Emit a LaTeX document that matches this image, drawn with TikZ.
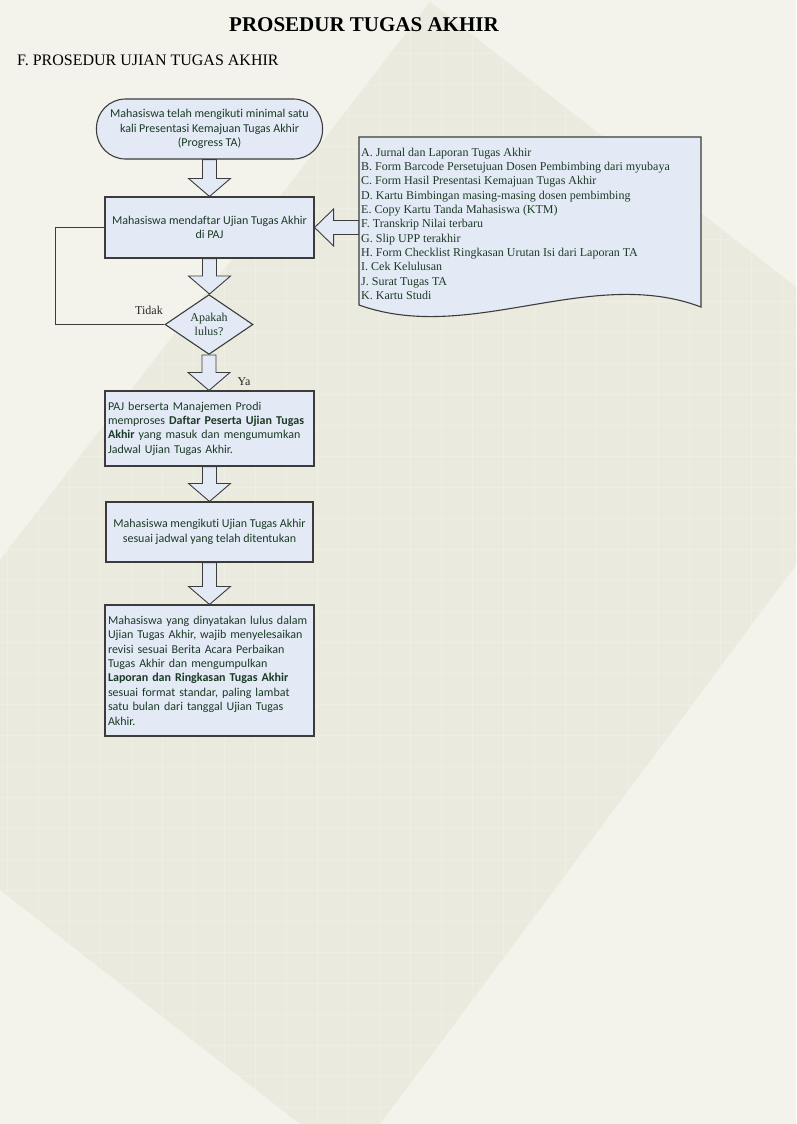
\documentclass[tikz,border=0pt]{standalone}
\usepackage{fontspec}
\setmainfont{Liberation Serif}
\newfontfamily\calfont[Ligatures=NoCommon]{Carlito}
\usetikzlibrary{shapes.geometric,calc}
\definecolor{pagebg}{HTML}{F3F3EB}
\definecolor{darkbg}{HTML}{EAEADE}
\definecolor{boxfill}{HTML}{E3EAF5}
\definecolor{boxline}{HTML}{3C3C3C}
\definecolor{txtgreen}{HTML}{1B3A26}
\tikzset{
  procbox/.style={draw=boxline, line width=1.1pt, fill=boxfill, inner sep=0pt,
    text=txtgreen, font=\calfont\fontsize{12}{14.4}\selectfont},
  termbox/.style={procbox, rounded corners=29pt},
  decision/.style={draw=boxline, line width=1.1pt, fill=boxfill, inner sep=0pt,
    diamond, text=txtgreen, font=\fontsize{12}{14}\selectfont},
  barrowstyle/.style={draw=boxline, line width=0.9pt, fill=boxfill, line join=miter},
  lbl/.style={font=\fontsize{12}{14}\selectfont, text=black!85, inner sep=0pt},
  gridline/.style={white, opacity=0.22, line width=0.7pt},
}
\newcommand\vblockarrow[2]{%
  \path[barrowstyle] let \p1=(#1.south), \p2=(#2.north) in
    (\x1-7pt,\y1) -- (\x1-7pt,\y2+18pt) -- (\x1-21pt,\y2+18pt) -- (\x1,\y2)
    -- (\x1+21pt,\y2+18pt) -- (\x1+7pt,\y2+18pt) -- (\x1+7pt,\y1) -- cycle;}
\begin{document}
\begin{tikzpicture}[x=1pt,y=-1pt]
\useasboundingbox (0,0) rectangle (796,1124);
% background
\fill[pagebg] (0,0) rectangle (796,1124);
\fill[darkbg] (430,2) -- (796,287) -- (796,565) -- (380,1124) -- (300,1124) -- (0,890) -- (0,560) -- cycle;
\begin{scope}
  \clip (430,2) -- (796,287) -- (796,565) -- (380,1124) -- (300,1124) -- (0,890) -- (0,560) -- cycle;
  \foreach \gx in {7,38,...,796} \draw[gridline] (\gx,0) -- (\gx,1124);
  \foreach \gy in {22,53,...,1124} \draw[gridline] (0,\gy) -- (796,\gy);
\end{scope}

% titles
\node[font=\bfseries\fontsize{21}{24}\selectfont, inner sep=0pt] (title) at (364,24.5) {PROSEDUR TUGAS AKHIR};
\node[font=\fontsize{16}{19}\selectfont, anchor=west, inner sep=0pt] (subtitle) at (17,60) {F. PROSEDUR UJIAN TUGAS AKHIR};

% flow nodes
\node[termbox, minimum width=226pt, minimum height=60pt, align=center] (term) at (209.5,129)
  {Mahasiswa telah mengikuti minimal satu\\kali Presentasi Kemajuan Tugas Akhir\\(Progress TA)};
\node[procbox, minimum width=209pt, minimum height=61pt, align=center] (boxA) at (209.5,227.5)
  {Mahasiswa mendaftar Ujian Tugas Akhir\\di PAJ};
\node[decision, minimum width=88pt, minimum height=55pt, align=center] (dec) at (209,324.5)
  {Apakah\\lulus?};
\node[procbox, minimum width=209pt, minimum height=75pt, text width=203pt, align=left] (boxB) at (209.5,428.5)
  {PAJ berserta Manajemen Prodi\\memproses \textbf{Daftar Peserta Ujian Tugas}\\\textbf{Akhir} yang masuk dan mengumumkan\\Jadwal Ujian Tugas Akhir.};
\node[procbox, minimum width=207pt, minimum height=60pt, align=center] (boxC) at (209.5,532)
  {Mahasiswa mengikuti Ujian Tugas Akhir\\sesuai jadwal yang telah ditentukan};
\node[procbox, minimum width=209pt, minimum height=131pt, text width=203pt, align=left] (boxD) at (209.5,670.5)
  {Mahasiswa yang dinyatakan lulus dalam\\Ujian Tugas Akhir, wajib menyelesaikan\\revisi sesuai Berita Acara Perbaikan\\Tugas Akhir dan mengumpulkan\\\textbf{Laporan dan Ringkasan Tugas Akhir}\\sesuai format standar, paling lambat\\satu bulan dari tanggal Ujian Tugas\\Akhir.};

% block arrows
\vblockarrow{term}{boxA}
\vblockarrow{boxA}{dec}
\vblockarrow{dec}{boxB}
\vblockarrow{boxB}{boxC}
\vblockarrow{boxC}{boxD}

% loop back (Tidak)
\draw[draw=boxline, line width=1pt] (dec.west) -- ++(-109,0) |- (boxA.west);
\node[lbl] (tidak) at (149,310) {Tidak};
\node[lbl] (ya) at (244,382) {Ya};

% document of requirements
\coordinate (docin) at (359,227.5);
\path[barrowstyle] let \p1=(docin), \p2=(boxA.east) in
  (\x1,\y2+7pt) -- (\x2+19pt,\y2+7pt) -- (\x2+19pt,\y2+18.5pt) -- (\x2,\y2)
  -- (\x2+19pt,\y2-18.5pt) -- (\x2+19pt,\y2-7pt) -- (\x1,\y2-7pt) -- cycle;
\draw[draw=boxline, line width=1.1pt, fill=boxfill] (359,137) -- (701,137) -- (701,307)
  .. controls (590,265) and (470,345) .. (359,305) -- cycle;
\node[anchor=north west, inner sep=0pt, align=left, text=txtgreen, font=\fontsize{12}{14.3}\selectfont] (doclist) at (361,147.8)
  {A. Jurnal dan Laporan Tugas Akhir\\
   B. Form Barcode Persetujuan Dosen Pembimbing dari myubaya\\
   C. Form Hasil Presentasi Kemajuan Tugas Akhir\\
   D. Kartu Bimbingan masing-masing dosen pembimbing\\
   E. Copy Kartu Tanda Mahasiswa (KTM)\\
   F. Transkrip Nilai terbaru\\
   G. Slip UPP terakhir\\
   H. Form Checklist Ringkasan Urutan Isi dari Laporan TA\\
   I. Cek Kelulusan\\
   J. Surat Tugas TA\\
   K. Kartu Studi};
\end{tikzpicture}
\end{document}
